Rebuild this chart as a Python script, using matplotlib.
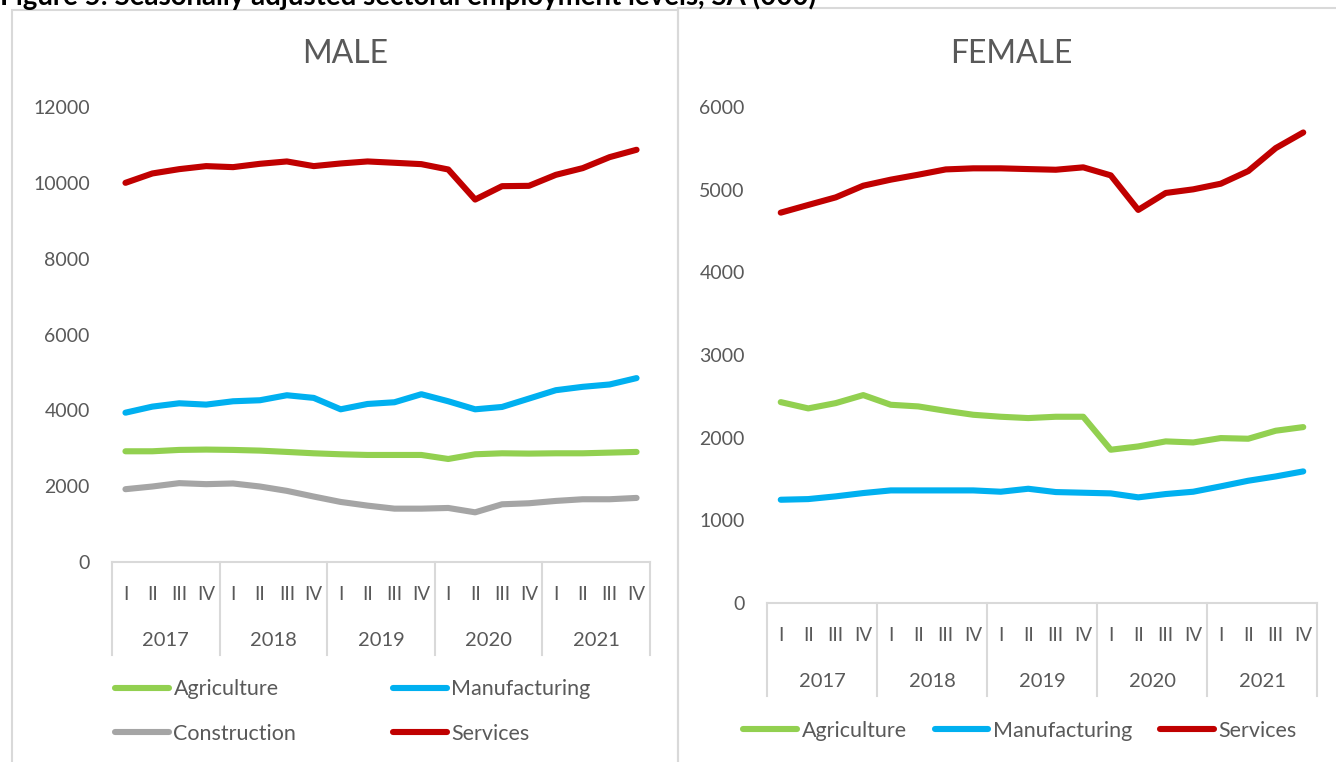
import matplotlib

matplotlib.use("Agg")
import matplotlib.pyplot as plt
from matplotlib.lines import Line2D
from matplotlib.patches import Rectangle
from matplotlib.transforms import blended_transform_factory

plt.rcParams["font.family"] = ["Lato", "DejaVu Sans"]

YEARS = ["2017", "2018", "2019", "2020", "2021"]
QUARTERS = ["I", "II", "III", "IV"]

# male, thousands
male_agriculture = [2920, 2920, 2956, 2965, 2956, 2938, 2903, 2867, 2841, 2823,
                    2823, 2823, 2717, 2841, 2867, 2859, 2867, 2867, 2885, 2903]
male_manufacturing = [3938, 4098, 4186, 4151, 4239, 4266, 4398, 4328, 4027, 4168,
                      4213, 4425, 4239, 4027, 4089, 4310, 4531, 4620, 4682, 4850]
male_construction = [1920, 1991, 2080, 2053, 2071, 1991, 1876, 1726, 1584, 1487,
                     1407, 1407, 1425, 1310, 1522, 1549, 1611, 1655, 1655, 1690]
male_services = [10000, 10247, 10361, 10441, 10414, 10502, 10564, 10441, 10511, 10564,
                 10529, 10493, 10352, 9559, 9912, 9921, 10211, 10388, 10678, 10872]

# female, thousands
female_agriculture = [2430, 2354, 2418, 2515, 2398, 2378, 2325, 2277, 2253, 2237,
                      2253, 2253, 1854, 1894, 1955, 1942, 1995, 1987, 2084, 2128]
female_manufacturing = [1249, 1257, 1290, 1330, 1362, 1362, 1362, 1362, 1346, 1382,
                        1342, 1334, 1326, 1278, 1318, 1346, 1411, 1479, 1531, 1592]
female_services = [4722, 4815, 4907, 5048, 5121, 5181, 5245, 5258, 5258, 5249,
                   5241, 5270, 5173, 4755, 4960, 5004, 5072, 5225, 5503, 5692]

COLORS = {
    "Agriculture": "#92d050",
    "Manufacturing": "#00b0f0",
    "Construction": "#a5a5a5",
    "Services": "#c00000",
}
TEXT = "#595959"
BORDER = "#d9d9d9"
W, H = 1336, 762


def px_axes(fig, x0, x1, y_top, y_bottom):
    return fig.add_axes([x0 / W, 1 - y_bottom / H, (x1 - x0) / W, (y_bottom - y_top) / H])


def style_panel(ax, series, ymax, ystep, sep_depth):
    n = len(YEARS) * len(QUARTERS)
    for name, values in series:
        ax.plot(range(n), values, color=COLORS[name], linewidth=4.4,
                solid_capstyle="round", solid_joinstyle="round", label=name)
    ax.set_xlim(-0.5, n - 0.5)
    ax.set_ylim(0, ymax)
    ax.set_yticks(range(0, ymax + 1, ystep))
    ax.tick_params(axis="y", length=0, labelsize=14, labelcolor=TEXT, pad=16)
    for side in ["left", "right", "top"]:
        ax.spines[side].set_visible(False)
    ax.spines["bottom"].set_color(BORDER)
    ax.spines["bottom"].set_linewidth(1.5)

    ax.set_xticks(range(n))
    ax.set_xticklabels(QUARTERS * len(YEARS))
    ax.tick_params(axis="x", length=0, labelsize=13.5, labelcolor=TEXT, pad=17)

    trans = blended_transform_factory(ax.transData, ax.transAxes)
    for i in range(len(YEARS) + 1):
        ax.plot([i * 4 - 0.5, i * 4 - 0.5], [0, -sep_depth], color=BORDER,
                linewidth=1.5, transform=trans, clip_on=False)
    for i, year in enumerate(YEARS):
        ax.text(i * 4 + 1.5, -sep_depth * 0.84, year, transform=trans, ha="center",
                va="center", fontsize=14.5, color=TEXT)


fig = plt.figure(figsize=(W / 100, H / 100), dpi=100)

# panel borders
fig.patches.append(Rectangle((12 / W, -0.01), 666 / W, 1 - 10 / H + 0.01, transform=fig.transFigure,
                             fill=False, edgecolor=BORDER, linewidth=1.5))
fig.patches.append(Rectangle((678 / W, -0.01), 700 / W, 1 - 8 / H + 0.01, transform=fig.transFigure,
                             fill=False, edgecolor=BORDER, linewidth=1.5))

# the caption is cut off at the top edge in the source image
fig.text(0, 1 - 5 / H, "Figure 5: Seasonally adjusted sectoral employment levels, SA (000)",
         ha="left", va="baseline", fontsize=19.9, fontweight="bold", color="black")

fig.text(345 / W, 1 - 54 / H, "MALE", ha="center", va="center", fontsize=23, color=TEXT)
fig.text(1011 / W, 1 - 54 / H, "FEMALE", ha="center", va="center", fontsize=23, color=TEXT)

ax_m = px_axes(fig, 112, 650, 107, 562)
style_panel(
    ax_m,
    [("Agriculture", male_agriculture), ("Manufacturing", male_manufacturing),
     ("Construction", male_construction), ("Services", male_services)],
    12000, 2000, sep_depth=93 / 455,
)

ax_f = px_axes(fig, 767, 1317, 107, 603)
style_panel(
    ax_f,
    [("Agriculture", female_agriculture), ("Manufacturing", female_manufacturing),
     ("Services", female_services)],
    6000, 1000, sep_depth=93 / 496,
)


def handle(name):
    return Line2D([], [], color=COLORS[name], linewidth=4.4, solid_capstyle="round")


male_names = ["Agriculture", "Construction", "Manufacturing", "Services"]
fig.legend([handle(n) for n in male_names], male_names, ncol=2, loc="center left",
           bbox_to_anchor=(96 / W, 1 - 711.5 / H), frameon=False, fontsize=15.5,
           labelcolor=TEXT, handlelength=2.5, handletextpad=0.2, columnspacing=4.5,
           labelspacing=1.12)

female_names = ["Agriculture", "Manufacturing", "Services"]
fig.legend([handle(n) for n in female_names], female_names, ncol=3, loc="center left",
           bbox_to_anchor=(724 / W, 1 - 731 / H), frameon=False, fontsize=15.5,
           labelcolor=TEXT, handlelength=2.5, handletextpad=0.2, columnspacing=1.3)

fig.savefig("out.png", dpi=100)
